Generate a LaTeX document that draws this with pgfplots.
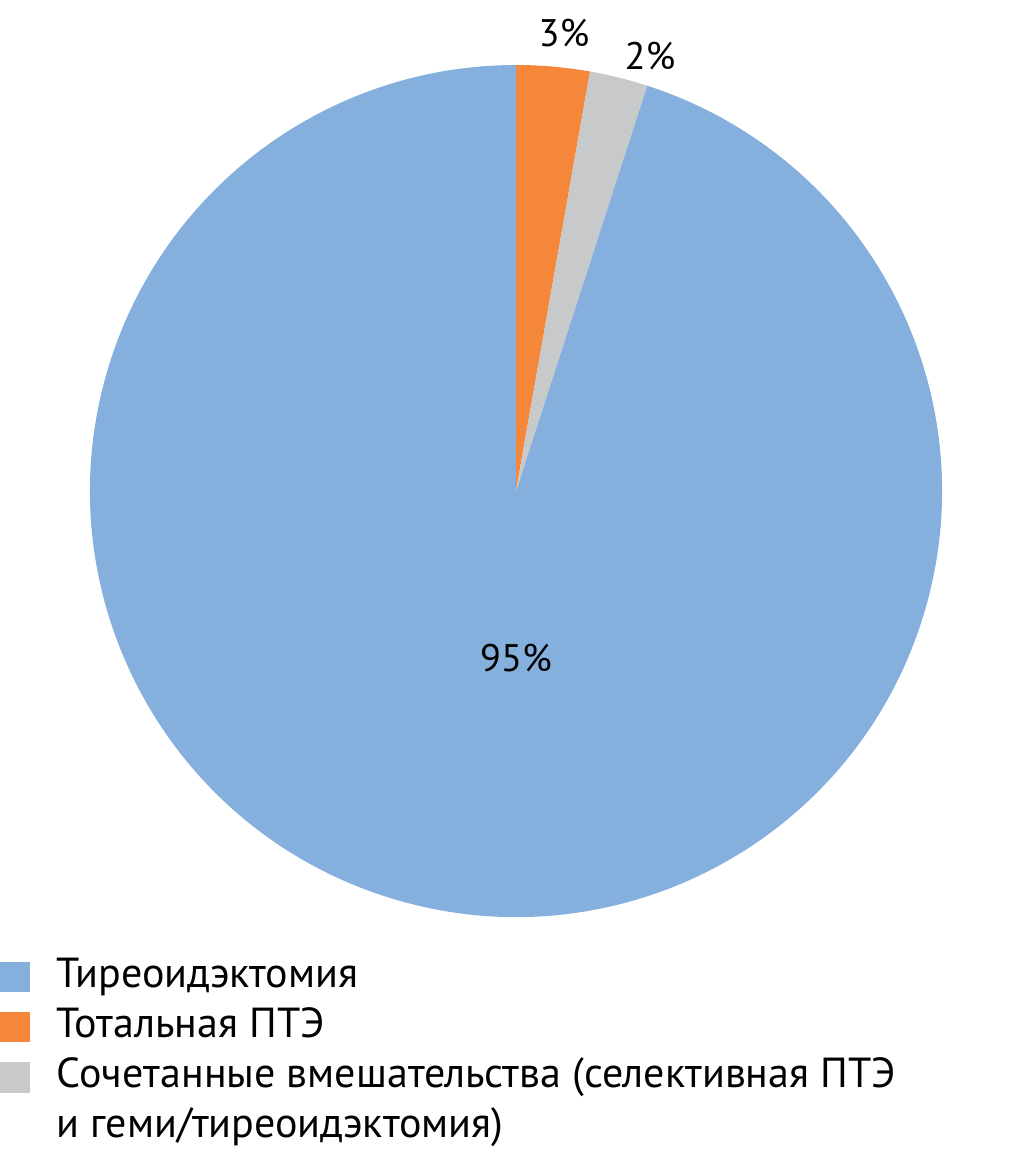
\documentclass[border=0pt]{standalone}
\usepackage{pgfplots}
\usepackage{pgfplotstable}
\pgfplotsset{compat=1.18}
\usepackage{fontspec}
\setmainfont{PT Sans}
\definecolor{cblue}{HTML}{85B0DD}
\definecolor{corange}{HTML}{F5873B}
\definecolor{cgrey}{HTML}{C8C9CA}
\pgfplotstableread{
name value
orange 2.78
grey 2.20
blue 95.02
}\piedata
\begin{document}
\begin{tikzpicture}
\pgfplotstablegetelem{0}{value}\of\piedata \pgfmathsetmacro{\vA}{\pgfplotsretval}
\pgfplotstablegetelem{1}{value}\of\piedata \pgfmathsetmacro{\vB}{\pgfplotsretval}
\pgfplotstablegetelem{2}{value}\of\piedata \pgfmathsetmacro{\vC}{\pgfplotsretval}
\pgfmathsetmacro{\aA}{90-3.6*\vA}
\pgfmathsetmacro{\aB}{\aA-3.6*\vB}
\pgfmathsetmacro{\aC}{\aB-3.6*\vC}
\def\R{106.5pt}
\begin{axis}[
  x=0.25pt, y=0.25pt,
  xmin=0, xmax=1033, ymin=0, ymax=1156,
  y dir=reverse,
  hide axis, clip=false,
]
\path (axis cs:0,0) rectangle (axis cs:1033,1156);
\fill[cblue] (axis cs:516,491) -- ++(\aB:\R) arc[start angle=\aB, end angle=\aC, radius=\R] -- cycle;
\fill[corange] (axis cs:516,491) -- ++(90:\R) arc[start angle=90, end angle=\aA, radius=\R] -- cycle;
\fill[cgrey] (axis cs:516,491) -- ++(\aA:\R) arc[start angle=\aA, end angle=\aB, radius=\R] -- cycle;
\node[anchor=base, font=\fontsize{9.6}{11}\selectfont, inner sep=0pt] at (axis cs:564,47) {3\%};
\node[anchor=base, font=\fontsize{9.6}{11}\selectfont, inner sep=0pt] at (axis cs:650,69) {2\%};
\node[anchor=base, font=\fontsize{9.6}{11}\selectfont, inner sep=0pt] at (axis cs:516,671) {95\%};
\fill[cblue] (axis cs:0,962) rectangle (axis cs:30,992);
\fill[corange] (axis cs:0,1012) rectangle (axis cs:30,1042);
\fill[cgrey] (axis cs:0,1062) rectangle (axis cs:30,1093);
\node[anchor=base west, font=\fontsize{10.5}{12}\selectfont, inner sep=0pt] at (axis cs:56,987) {Тиреоидэктомия};
\node[anchor=base west, font=\fontsize{10.5}{12}\selectfont, inner sep=0pt] at (axis cs:56,1037) {Тотальная ПТЭ};
\node[anchor=base west, font=\fontsize{10.5}{12}\selectfont, inner sep=0pt] at (axis cs:56,1087) {Сочетанные вмешательства (селективная ПТЭ};
\node[anchor=base west, font=\fontsize{10.5}{12}\selectfont, inner sep=0pt] at (axis cs:56,1137) {и геми/тиреоидэктомия)};
\end{axis}
\end{tikzpicture}
\end{document}
